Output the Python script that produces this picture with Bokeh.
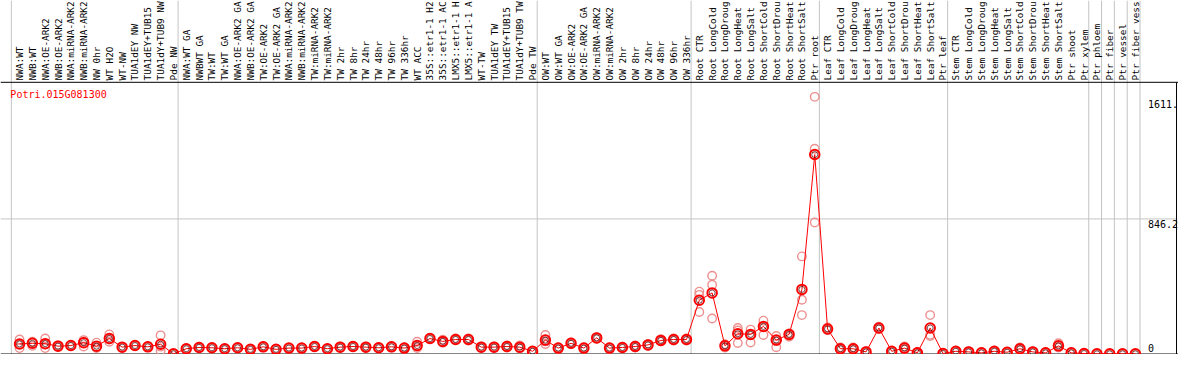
import math
from bokeh.plotting import figure
from bokeh.models import Range1d, ColumnDataSource
from bokeh.embed import file_html
from bokeh.resources import INLINE
from bokeh.core.properties import value

# ---------------- data ----------------
gene = "Potri.015G081300"

samples = [
    "NWA:WT", "NWB:WT", "NWA:OE-ARK2", "NWB:OE-ARK2", "NWA:miRNA-ARK2", "NWB:miRNA-ARK2",
    "NW 0hr", "WT H2O", "WT-NW", "TUA1dEY NW", "TUA1dEY+TUB15 NW", "TUA1dY+TUB9 NW", "Pde NW",
    "NWA:WT GA", "NWBWT GA", "TW:WT", "TW:WT GA", "NWA:OE-ARK2 GA", "NWB:OE-ARK2 GA",
    "TW:OE-ARK2", "TW:OE-ARK2 GA", "NWA:miRNA-ARK2 GA", "NWB:miRNA-ARK2 GA", "TW:miRNA-ARK2",
    "TW:miRNA-ARK2 GA", "TW 2hr", "TW 8hr", "TW 24hr", "TW 48hr", "TW 96hr", "TW 336hr",
    "WT ACC", "35S::etr1-1 H2O", "35S::etr1-1 ACC", "LMX5::etr1-1 H2O", "LMX5::etr1-1 ACC",
    "WT-TW", "TUA1dEY TW", "TUA1dEY+TUB15 TW", "TUA1dY+TUB9 TW", "Pde TW",
    "OW:WT", "OW:WT GA", "OW:OE-ARK2", "OW:OE-ARK2 GA", "OW:miRNA-ARK2", "OW:miRNA-ARK2 GA",
    "OW 2hr", "OW 8hr", "OW 24hr", "OW 48hr", "OW 96hr", "OW 336hr",
    "Root CTR", "Root LongCold", "Root LongDrought", "Root LongHeat", "Root LongSalt",
    "Root ShortCold", "Root ShortDrought", "Root ShortHeat", "Root ShortSalt", "Ptr root",
    "Leaf CTR", "Leaf LongCold", "Leaf LongDrought", "Leaf LongHeat", "Leaf LongSalt",
    "Leaf ShortCold", "Leaf ShortDrought", "Leaf ShortHeat", "Leaf ShortSalt", "Ptr leaf",
    "Stem CTR", "Stem LongCold", "Stem LongDrought", "Stem LongHeat", "Stem LongSalt",
    "Stem ShortCold", "Stem ShortDrought", "Stem ShortHeat", "Stem ShortSalt", "Ptr shoot", "Ptr xylem",
    "Ptr phloem", "Ptr fiber", "Ptr vessel", "Ptr fiber vessel",
]

# index of the last sample of each group (group separators)
group_ends = [-1, 12, 40, 52, 62, 72, 83, 84, 85, 86, 87]

means = [
    62, 66, 64, 48, 52, 70, 48, 96, 42, 52, 44, 60, 0,
    32, 40, 38, 32, 38, 28, 44, 28, 36, 36, 46, 32, 42, 46, 42, 38, 44, 36,
    52, 96, 78, 90, 90, 42, 42, 46, 42, 16,
    86, 36, 66, 36, 100, 36, 40, 46, 56, 84, 90, 90,
    336, 382, 50, 126, 122, 172, 86, 122, 404, 1250,
    156, 32, 32, 12, 162, 16, 36, 6, 162, 2,
    16, 12, 6, 16, 10, 32, 12, 6, 50, 6, 2,
    0, 0, 0, 0,
]

reps = [
    [90, 36, 60], [76, 50, 72], [96, 36, 60], [54, 46, 44], [56, 50, 48], [86, 46, 77],
    [70, 40, 36], [122, 76, 90], [44, 42, 40], [54, 50, 50], [46, 44, 42], [116, 20, 45], [0, 0, 0],
    [34, 30, 32], [44, 36, 40], [40, 36, 38], [34, 30, 32], [40, 36, 38], [30, 26, 28], [48, 40, 44],
    [30, 26, 28], [38, 34, 36], [38, 34, 36], [50, 42, 46], [34, 30, 32], [46, 38, 42], [50, 42, 46],
    [46, 38, 42], [42, 34, 38], [48, 40, 44], [40, 32, 36], [76, 44, 36], [100, 92, 96], [88, 70, 76],
    [96, 86, 88], [96, 84, 90], [46, 38, 42], [46, 38, 42], [52, 40, 46], [52, 40, 34], [20, 10, 18],
    [118, 62, 78], [40, 32, 36], [72, 60, 66], [40, 32, 36], [104, 96, 100], [40, 32, 36],
    [44, 36, 40], [52, 40, 46], [62, 50, 56], [92, 78, 84], [96, 84, 90], [96, 84, 90],
    [390, 370, 262], [490, 433, 222], [60, 50, 40], [162, 146, 68], [152, 118, 71], [208, 168, 118],
    [112, 81, 41], [128, 107, 120], [611, 339, 243], [1611.8, 1286, 824],
    [165, 150, 154], [40, 26, 30], [40, 26, 30], [18, 8, 10], [170, 156, 160], [20, 12, 14],
    [46, 28, 34], [10, 2, 6], [243, 119, 112], [4, 0, 2],
    [20, 12, 16], [16, 8, 12], [10, 2, 6], [20, 12, 16], [14, 6, 10], [40, 24, 32], [16, 8, 12],
    [10, 2, 6], [66, 40, 44], [10, 2, 6], [4, 0, 2],
    [0, 0, 0], [0, 0, 0], [0, 0, 0], [0, 0, 0],
]

y_ticks = [0, 846.2]
max_label = "1611."

# ---------------- layout (reference pixel geometry) ----------------
REF_W, REF_H = 1194, 370
W, H = 1178, 354
X0_PX, DX_PX = 19.3, 13.0          # pixel of sample 0, pixel step
Y0_PX, YTOP_PX, YTOP = 369.3, 87.3, 1692.4
PY = (Y0_PX - YTOP_PX) / YTOP      # pixel per unit


def fx(px):
    return (px - X0_PX) / DX_PX


def fy(px):
    return (Y0_PX - px) / PY


p = figure(width=W, height=H, output_backend="svg", toolbar_location=None,
           x_range=Range1d(fx(0), fx(REF_W)), y_range=Range1d(fy(REF_H), fy(0)),
           x_axis_location=None, y_axis_location=None, min_border=0,
           outline_line_color=None, background_fill_color="white",
           border_fill_color="white")
p.grid.visible = False

GREY = "#c4c4c4"
MONO = value("DejaVu Sans Mono")

# group separators (full height)
sep_x = [e + 4.7 / DX_PX for e in group_ends]
p.segment(x0=sep_x, x1=sep_x, y0=[fy(0)] * len(sep_x), y1=[fy(REF_H)] * len(sep_x),
          line_color=GREY, line_width=1)

# mid grid line
p.segment(x0=[fx(0)], x1=[fx(1192)], y0=[y_ticks[1]], y1=[y_ticks[1]],
          line_color=GREY, line_width=1)

# black frame lines
p.segment(x0=[fx(0), fx(0), fx(1192)], x1=[fx(REF_W), fx(REF_W), fx(1192)],
          y0=[fy(85.5), fy(369.5), fy(85.5)], y1=[fy(85.5), fy(369.5), fy(REF_H)],
          line_color="black", line_width=1)

# sample labels (rotated, clipped to 14 characters like the original)
idx = list(range(len(samples)))
lab_src = ColumnDataSource(dict(x=idx, y=[fy(83.5)] * len(idx), t=[s[:14] for s in samples]))
p.text(x="x", y="y", text="t", source=lab_src, angle=math.pi / 2, text_align="left",
       text_baseline="middle", text_font=MONO, text_font_size="9.4px", text_color="black")

# gene name
p.text(x=[fx(10)], y=[fy(92)], text=[gene], text_align="left", text_baseline="top",
       text_font=MONO, text_font_size="10px", text_color="#ff0000")

# value labels on the right
p.text(x=[fx(1163)] * 3, y=[fy(104), fy(229), fy(359)],
       text=[max_label, "%.1f" % y_ticks[1], "%d" % y_ticks[0]],
       text_align="left", text_baseline="top", text_font=MONO, text_font_size="10px",
       text_color="black")

# replicate points
rx, ry = [], []
for i, r in enumerate(reps):
    for v in r:
        rx.append(i)
        ry.append(v)
p.scatter(rx, ry, marker="circle", size=8.5, fill_color=None, line_color="#ee9090",
          line_width=1.4)

# mean line and points
p.line(idx, means, line_color="#ff0000", line_width=1)
p.scatter(idx, means, marker="circle", size=9.5, fill_color=None, line_color="#ff0000",
          line_width=2)
p.scatter(idx, means, marker="circle", size=6, fill_color=None, line_color="#400000",
          line_width=0.7)

open("out.html", "w").write(file_html(p, INLINE))
